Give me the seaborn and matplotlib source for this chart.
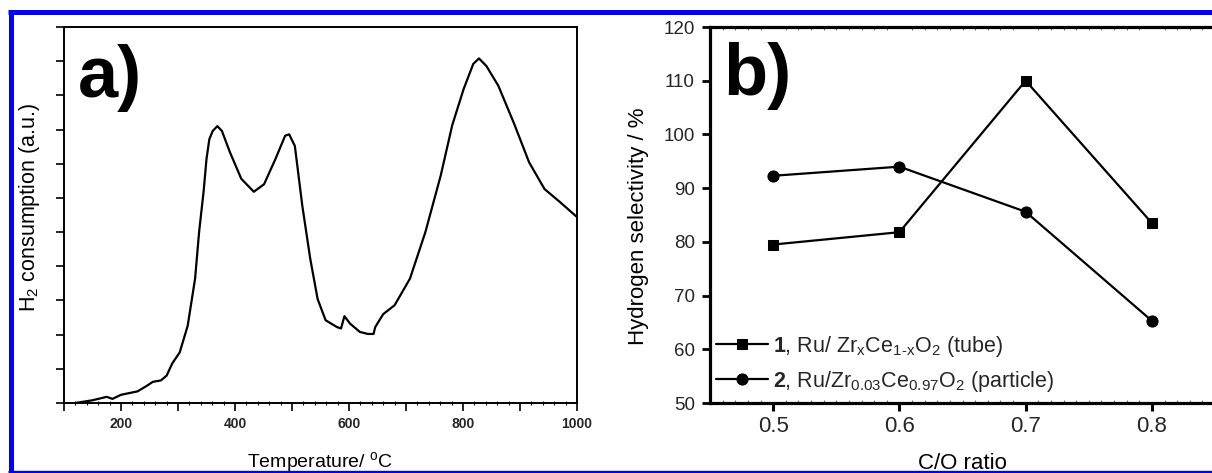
import matplotlib
matplotlib.use("Agg")
import matplotlib.pyplot as plt
import seaborn as sns
import pandas as pd
from matplotlib.lines import Line2D
from matplotlib.ticker import MultipleLocator, FuncFormatter

# ---------------- data ----------------
temperature = [120, 150, 175, 185, 200, 229, 245, 256, 270, 280, 290, 303, 317, 330, 337,
               345, 350, 355, 361, 369, 377, 391, 411, 433, 451, 471, 488, 495, 505,
               518, 532, 545, 559, 579, 586, 592, 602, 619, 633, 643, 646, 660, 680,
               707, 734, 761, 781, 801, 818, 828, 841, 862, 889, 916, 943, 970, 1000]
h2_consumption = [0.00, 0.04, 0.09, 0.06, 0.12, 0.17, 0.25, 0.31, 0.33, 0.40, 0.58, 0.74, 1.13,
                  1.82, 2.50, 3.10, 3.57, 3.86, 3.98, 4.05, 3.98, 3.67, 3.28, 3.09, 3.20,
                  3.57, 3.91, 3.93, 3.76, 2.89, 2.11, 1.52, 1.21, 1.11, 1.09, 1.27, 1.16,
                  1.04, 1.01, 1.01, 1.11, 1.30, 1.43, 1.82, 2.50, 3.33, 4.06, 4.59, 4.96,
                  5.04, 4.93, 4.64, 4.10, 3.52, 3.13, 2.94, 2.72]

co_ratio = [0.5, 0.6, 0.7, 0.8]
tube_selectivity = [79.5, 81.8, 110.0, 83.5]
particle_selectivity = [92.3, 94.0, 85.6, 65.3]
series_labels = [
    r"$\mathbf{1}$, Ru/ Zr$\mathregular{_x}$Ce$\mathregular{_{1‐x}}$O$\mathregular{_2}$ (tube)",
    r"$\mathbf{2}$, Ru/Zr$\mathregular{_{0.03}}$Ce$\mathregular{_{0.97}}$O$\mathregular{_2}$ (particle)",
]
x_ticks_a = [200, 400, 600, 800, 1000]
y_ticks_b = [50, 60, 70, 80, 90, 100, 110, 120]
x_ticks_b = [0.5, 0.6, 0.7, 0.8]

# ---------------- style ----------------
sns.set_theme(style="ticks")
plt.rcParams['font.family'] = ['Liberation Sans', 'DejaVu Sans']
plt.rcParams['mathtext.fontset'] = 'custom'
plt.rcParams['mathtext.rm'] = 'Liberation Sans'
plt.rcParams['mathtext.bf'] = 'Liberation Sans:bold'
plt.rcParams['mathtext.it'] = 'Liberation Sans:italic'

W, H = 1212, 473
fig = plt.figure(figsize=(W / 100, H / 100), dpi=100)
fig.patch.set_facecolor('white')

axA = fig.add_axes([64 / W, (H - 403) / H, 513 / W, 376 / H])
axB = fig.add_axes([710 / W, (H - 403) / H, 505 / W, 376 / H])

# ---------------- panel a ----------------
dfa = pd.DataFrame({"T": temperature, "H2": h2_consumption})
sns.lineplot(data=dfa, x="T", y="H2", ax=axA, color="black", lw=1.6,
             sort=False, estimator=None)
axA.set_xlim(100, 1000)
axA.set_ylim(0, 5.5)
axA.xaxis.set_major_locator(MultipleLocator(100))
axA.xaxis.set_minor_locator(MultipleLocator(20))
axA.xaxis.set_major_formatter(FuncFormatter(
    lambda v, p: f"{int(round(v))}" if int(round(v)) in x_ticks_a else ""))
axA.yaxis.set_major_locator(MultipleLocator(1))
axA.yaxis.set_minor_locator(MultipleLocator(0.5))
axA.tick_params(axis='y', which='both', labelleft=False, direction='out',
                length=6, width=1.2, color='black')
axA.tick_params(axis='x', which='major', direction='out', length=6, width=1.2,
                color='black', pad=4, labelsize=10)
axA.tick_params(axis='x', which='minor', direction='inout', length=3, width=0.8,
                color='black')
for lab in axA.get_xticklabels():
    lab.set_fontweight('bold')
for s in axA.spines.values():
    s.set_linewidth(1.4)
    s.set_color('black')
axA.set_xlabel(r"Temperature/ $\mathregular{^o}$C", fontsize=14, color='black')
axA.xaxis.set_label_coords(0.5, -0.125)
axA.set_ylabel(r"H$\mathregular{_2}$ consumption (a.u.)", fontsize=15.5, color='black')
axA.yaxis.set_label_coords(-0.043, 0.52)
axA.text(0.027, 0.955, "a)", transform=axA.transAxes, fontsize=52,
         fontweight='bold', va='top', ha='left', color='black')

# ---------------- panel b ----------------
sns.lineplot(x=co_ratio, y=tube_selectivity, ax=axB, color='black', lw=1.6,
             marker='s', markersize=7, markeredgecolor='black',
             label=series_labels[0], estimator=None)
sns.lineplot(x=co_ratio, y=particle_selectivity, ax=axB, color='black', lw=1.6,
             marker='o', markersize=8, markeredgecolor='black',
             label=series_labels[1], estimator=None)
axB.set_xlim(0.45, 0.85)
axB.set_ylim(50, 120)
axB.set_xticks(x_ticks_b)
axB.set_xticklabels([f"{v:.1f}" for v in x_ticks_b])
axB.set_yticks(y_ticks_b)
axB.xaxis.set_minor_locator(MultipleLocator(0.01))
axB.tick_params(axis='x', which='major', direction='out', length=6, width=2.2,
                color='black', labelsize=16, pad=3)
axB.tick_params(axis='x', which='minor', direction='in', length=2.5, width=0.8,
                color='0.45', top=True, bottom=True)
axB.tick_params(axis='y', which='major', direction='out', length=6, width=2.0,
                color='black', labelsize=13.5, pad=5)
for s in axB.spines.values():
    s.set_linewidth(2.3)
    s.set_color('black')
axB.set_xlabel("C/O ratio", fontsize=16, color='black')
axB.xaxis.set_label_coords(0.499, -0.133)
axB.set_ylabel("Hydrogen selectivity / %", fontsize=16, color='black')
axB.yaxis.set_label_coords(-0.121, 0.47)
axB.text(0.027, 0.96, "b)", transform=axB.transAxes, fontsize=52,
         fontweight='bold', va='top', ha='left', color='black')
axB.legend(loc='lower left', bbox_to_anchor=(0.012, 0.025), frameon=False,
           fontsize=15.5, handlelength=2.4, handletextpad=0.25,
           labelspacing=0.45, borderpad=0, borderaxespad=0)

# ---------------- blue frame ----------------
blue = '#0000ff'
fig.add_artist(Line2D([10.5 / W, 10.5 / W], [1 - 10 / H, 1 - 472 / H],
                      transform=fig.transFigure, color=blue, lw=3.6,
                      solid_capstyle='butt'))
fig.add_artist(Line2D([8 / W, 1.0], [1 - 12.5 / H, 1 - 12.5 / H],
                      transform=fig.transFigure, color=blue, lw=3.6,
                      solid_capstyle='butt'))
fig.add_artist(Line2D([8 / W, 1.0], [1 - 471.5 / H, 1 - 471.5 / H],
                      transform=fig.transFigure, color=blue, lw=2.4,
                      solid_capstyle='butt'))

fig.savefig("out.png", dpi=100, facecolor='white')
